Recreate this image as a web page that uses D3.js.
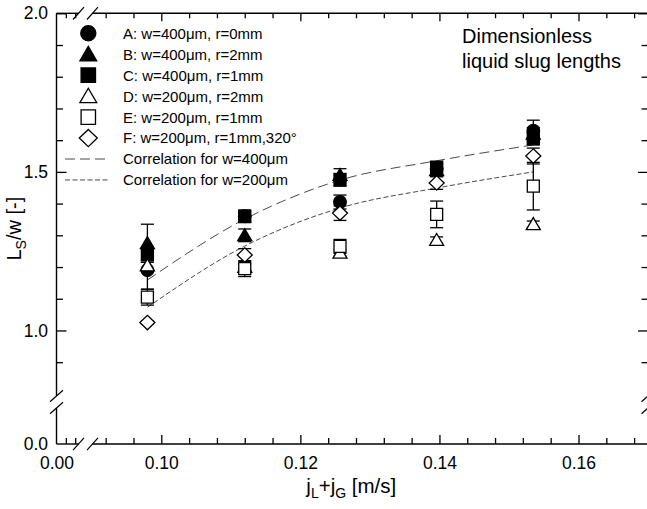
<!DOCTYPE html>
<html>
<head>
<meta charset="utf-8">
<script src="https://cdn.jsdelivr.net/npm/d3@7"></script>
<style>
  html, body { margin: 0; padding: 0; background: #fff; }
  svg { display: block; }
</style>
</head>
<body>
<script>
// Total superficial velocity j_L + j_G [m/s] of each measured group
const velocities = [0.098, 0.112, 0.1257, 0.1396, 0.1535];

// Dimensionless slug length L_S/w for each channel configuration
const seriesA = [1.19, 1.36, 1.405, 1.51, 1.63];
const seriesB = [1.275, 1.30, 1.49, 1.505, 1.62];
const seriesC = [1.24, 1.36, 1.475, 1.515, 1.605];
const seriesD = [1.205, 1.20, 1.245, 1.285, 1.335];
const seriesE = [1.105, 1.195, 1.265, 1.366, 1.455];
const seriesF = [1.025, 1.238, 1.37, 1.465, 1.55];

// Error bar half-widths
const errA = [0.06, 0.02, 0.022, 0.02, 0.033];
const errB = [0.06, 0.02, 0.02, 0.02, 0.02];
const errC = [0.02, 0.015, 0.02, 0.01, 0.02];
const errD = [0.01, 0.01, 0.01, 0.01, 0.01];
const errE = [0.025, 0.025, 0.022, 0.042, 0.075];
const errF = [0.005, 0.02, 0.023, 0.02, 0.025];

// Correlation curves
const corr400 = [1.159, 1.351, 1.474, 1.535, 1.585];
const corr200 = [1.073, 1.266, 1.386, 1.449, 1.50];

const seriesLabels = [
  "A: w=400\u03bcm, r=0mm",
  "B: w=400\u03bcm, r=2mm",
  "C: w=400\u03bcm, r=1mm",
  "D: w=200\u03bcm, r=2mm",
  "E: w=200\u03bcm, r=1mm",
  "F: w=200\u03bcm, r=1mm,320\u00b0"
];
const corrLabels = ["Correlation for w=400\u03bcm", "Correlation for w=200\u03bcm"];

// Tick values
const xMajor = [0.10, 0.12, 0.14, 0.16];
const xMinor = [0.092, 0.096, 0.104, 0.108, 0.112, 0.116, 0.124, 0.128, 0.132, 0.136,
                0.144, 0.148, 0.152, 0.156, 0.164, 0.168];
const xLowMinor = [0.002, 0.004];
const yMajor = [1.0, 1.5, 2.0];
const yMinor = [0.9, 1.1, 1.2, 1.3, 1.4, 1.6, 1.7, 1.8, 1.9];

const FONT = "'Liberation Sans', Arial, Helvetica, sans-serif";
const W = 647, H = 509;

const svg = d3.select("body").append("svg").attr("width", W).attr("height", H)
  .attr("font-family", FONT);

// Broken axes: a short stub near zero, then the main range
const x = d3.scaleLinear().domain([0.10, 0.16]).range([161.3, 578.5]);
const xLow = d3.scaleLinear().domain([0, 0.004]).range([56.5, 75.2]);
const y = d3.scaleLinear().domain([0.8, 2.0]).range([393.9, 13.3]);
const yLow = d3.scaleLinear().domain([0, 0.1]).range([444, 412]);

const plotLeft = 56.5, plotRight = x(0.17), plotTop = y(2.0), plotBottom = yLow(0);
const xBreak = [78.5, 92.5];   // gap in horizontal axes
const yBreak = [396, 408];     // gap in vertical axes

function styleAxis(g) {
  g.select(".domain").remove();
  g.selectAll("line").attr("stroke", "#000").attr("stroke-width", 1.3);
  g.selectAll("text").attr("font-family", FONT).attr("font-size", 17.5).attr("fill", "#000");
}

// Bottom axis
svg.append("g").attr("transform", `translate(0,${plotBottom})`)
  .call(d3.axisBottom(x).tickValues(xMajor).tickSize(-9).tickPadding(13).tickFormat(d3.format(".2f")))
  .call(styleAxis);
svg.append("g").attr("transform", `translate(0,${plotBottom})`)
  .call(d3.axisBottom(x).tickValues(xMinor).tickSize(-6).tickFormat(""))
  .call(styleAxis);
svg.append("g").attr("transform", `translate(0,${plotBottom})`)
  .call(d3.axisBottom(xLow).tickValues([0]).tickSize(0).tickPadding(13).tickFormat(d3.format(".2f")))
  .call(styleAxis);
svg.append("g").attr("transform", `translate(0,${plotBottom})`)
  .call(d3.axisBottom(xLow).tickValues(xLowMinor).tickSize(-6).tickFormat(""))
  .call(styleAxis);

// Top axis (mirror ticks)
svg.append("g").attr("transform", `translate(0,${plotTop})`)
  .call(d3.axisTop(x).tickValues(xMajor).tickSize(-8).tickFormat(""))
  .call(styleAxis);
svg.append("g").attr("transform", `translate(0,${plotTop})`)
  .call(d3.axisTop(x).tickValues(xMinor).tickSize(-5).tickFormat(""))
  .call(styleAxis);
svg.append("g").attr("transform", `translate(0,${plotTop})`)
  .call(d3.axisTop(xLow).tickValues(xLowMinor).tickSize(-5).tickFormat(""))
  .call(styleAxis);

// Left axis
svg.append("g").attr("transform", `translate(${plotLeft},0)`)
  .call(d3.axisLeft(y).tickValues(yMajor).tickSize(-10).tickPadding(8.5).tickFormat(d3.format(".1f")))
  .call(styleAxis);
svg.append("g").attr("transform", `translate(${plotLeft},0)`)
  .call(d3.axisLeft(y).tickValues(yMinor).tickSize(-6.5).tickFormat(""))
  .call(styleAxis);
svg.append("g").attr("transform", `translate(${plotLeft},0)`)
  .call(d3.axisLeft(yLow).tickValues([0]).tickSize(0).tickPadding(8.5).tickFormat(d3.format(".1f")))
  .call(styleAxis);

// Right axis (mirror ticks)
svg.append("g").attr("transform", `translate(${plotRight},0)`)
  .call(d3.axisRight(y).tickValues(yMajor).tickSize(-10).tickFormat(""))
  .call(styleAxis);
svg.append("g").attr("transform", `translate(${plotRight},0)`)
  .call(d3.axisRight(y).tickValues(yMinor).tickSize(-6.5).tickFormat(""))
  .call(styleAxis);

// Frame segments with gaps at the breaks
const frame = svg.append("g").attr("stroke", "#000").attr("stroke-width", 1.4).attr("fill", "none");
const seg = (x1, y1, x2, y2) => frame.append("line").attr("x1", x1).attr("y1", y1).attr("x2", x2).attr("y2", y2);
[plotTop, plotBottom].forEach(yy => {
  seg(plotLeft, yy, xBreak[0], yy);
  seg(xBreak[1], yy, plotRight, yy);
});
[plotLeft, plotRight].forEach(xx => {
  seg(xx, plotTop, xx, yBreak[0]);
  seg(xx, yBreak[1], xx, plotBottom);
});
// Break marks "//"
const brk = svg.append("g").attr("stroke", "#000").attr("stroke-width", 1.2);
[plotTop, plotBottom].forEach(yy => xBreak.forEach(xx => {
  brk.append("line").attr("x1", xx - 5.5).attr("y1", yy + 6.2).attr("x2", xx + 5.5).attr("y2", yy - 6.2);
}));
[plotLeft, plotRight].forEach(xx => yBreak.forEach(yy => {
  brk.append("line").attr("x1", xx - 6.5).attr("y1", yy + 5.8).attr("x2", xx + 6.5).attr("y2", yy - 5.8);
}));

// Correlation curves
const corrLine = d3.line().x((d, i) => x(velocities[i])).y(d => y(d)).curve(d3.curveMonotoneX);
svg.append("path").datum(corr400).attr("d", corrLine)
  .attr("fill", "none").attr("stroke", "#4a4a4a").attr("stroke-width", 1).attr("stroke-dasharray", "10,5");
svg.append("path").datum(corr200).attr("d", corrLine)
  .attr("fill", "none").attr("stroke", "#4a4a4a").attr("stroke-width", 1).attr("stroke-dasharray", "5,2.5");

// Marker shapes
function shapePath(kind, s) {
  const p = d3.path();
  if (kind === "circle") {
    p.arc(0, 0, 6.3 * s, 0, 2 * Math.PI);
  } else if (kind === "square") {
    const h = 6 * s; p.rect(-h, -h, 2 * h, 2 * h);
  } else if (kind === "triangle") {
    const w = 7 * s, h = 6 * s;
    p.moveTo(0, -h * 1.1); p.lineTo(w, h * 0.9); p.lineTo(-w, h * 0.9); p.closePath();
  } else if (kind === "diamond") {
    const w = 7.5 * s, h = 7.2 * s;
    p.moveTo(0, -h); p.lineTo(w, 0); p.lineTo(0, h); p.lineTo(-w, 0); p.closePath();
  }
  return p.toString();
}

const series = [
  { values: seriesA, err: errA, shape: "circle",   filled: true },
  { values: seriesB, err: errB, shape: "triangle", filled: true },
  { values: seriesC, err: errC, shape: "square",   filled: true },
  { values: seriesD, err: errD, shape: "triangle", filled: false },
  { values: seriesE, err: errE, shape: "square",   filled: false },
  { values: seriesF, err: errF, shape: "diamond",  filled: false }
];

// Error bars first, markers on top
const errG = svg.append("g").attr("stroke", "#000").attr("stroke-width", 1.3);
series.forEach(s => {
  s.values.forEach((v, i) => {
    const cx = x(velocities[i]), y1 = y(v + s.err[i]), y2 = y(v - s.err[i]);
    errG.append("line").attr("x1", cx).attr("x2", cx).attr("y1", y1).attr("y2", y2);
    [y1, y2].forEach(yy => errG.append("line").attr("x1", cx - 6.5).attr("x2", cx + 6.5).attr("y1", yy).attr("y2", yy));
  });
});

const markG = svg.append("g");
series.forEach(s => {
  markG.selectAll(null).data(s.values).join("path")
    .attr("transform", (d, i) => `translate(${x(velocities[i])},${y(d)})`)
    .attr("d", shapePath(s.shape, 1))
    .attr("fill", s.filled ? "#000" : "#fff")
    .attr("stroke", "#000").attr("stroke-width", 1.3);
});

// Legend
const legX = 88.3, legTextX = 123, legY0 = 33.3, legDy = 20.95;
const leg = svg.append("g");
series.forEach((s, i) => {
  const yy = legY0 + i * legDy;
  leg.append("path").attr("transform", `translate(${legX},${yy})`)
    .attr("d", shapePath(s.shape, 1.2))
    .attr("fill", s.filled ? "#000" : "#fff").attr("stroke", "#000").attr("stroke-width", 1.3);
  leg.append("text").attr("x", legTextX).attr("y", yy).attr("dy", "0.36em")
    .attr("font-size", 15).text(seriesLabels[i]);
});
["10,5", "5,2.5"].forEach((dash, j) => {
  const yy = legY0 + (6 + j) * legDy;
  leg.append("line").attr("x1", 65).attr("x2", 109).attr("y1", yy).attr("y2", yy)
    .attr("stroke", "#4a4a4a").attr("stroke-width", 1).attr("stroke-dasharray", dash);
  leg.append("text").attr("x", legTextX).attr("y", yy).attr("dy", "0.36em")
    .attr("font-size", 15).text(corrLabels[j]);
});

// Annotation
const note = svg.append("text").attr("x", 462).attr("y", 43).attr("font-size", 20);
note.append("tspan").attr("x", 462).text("Dimensionless");
note.append("tspan").attr("x", 462).attr("dy", 25.3).text("liquid slug lengths");

// Axis titles
const xt = svg.append("text").attr("x", (plotLeft + plotRight) / 2 - 1).attr("y", 493)
  .attr("text-anchor", "middle").attr("font-size", 20.5);
xt.append("tspan").text("j");
xt.append("tspan").attr("font-size", 14).attr("dy", 4.5).text("L");
xt.append("tspan").attr("dy", -4.5).text("+j");
xt.append("tspan").attr("font-size", 14).attr("dy", 4.5).text("G");
xt.append("tspan").attr("dy", -4.5).text(" [m/s]");

const yt = svg.append("text").attr("transform", `translate(21,${(plotTop + plotBottom) / 2}) rotate(-90)`)
  .attr("text-anchor", "middle").attr("font-size", 20);
yt.append("tspan").text("L");
yt.append("tspan").attr("font-size", 14).attr("dy", 4.5).text("S");
yt.append("tspan").attr("dy", -4.5).text("/w [-]");
</script>
</body>
</html>
